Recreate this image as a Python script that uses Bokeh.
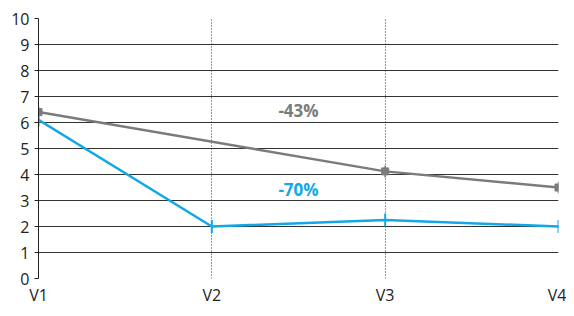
import numpy as np
from bokeh.plotting import figure
from bokeh.models import Range1d, FixedTicker, Label
from bokeh.embed import file_html
from bokeh.resources import INLINE

categories = ["V1", "V2", "V3", "V4"]
gray_values = [6.4, None, 4.12, 3.5]
blue_values = [6.1, 2.0, 2.25, 2.0]
y_ticks = list(range(0, 11))
gray_label = "-43%"
blue_label = "-70%"

GRAY = "#7b7b7b"
BLUE = "#12a8e8"
FONT = "Open Sans"

p = figure(width=566, height=308, output_backend="svg", toolbar_location=None,
           x_range=Range1d(0, 3), y_range=Range1d(0, 10),
           min_border_left=38, min_border_right=8, min_border_top=18, min_border_bottom=20)
p.outline_line_color = None
p.background_fill_color = "white"
p.border_fill_color = "white"

xs = list(range(len(categories)))
p.xaxis.ticker = FixedTicker(ticks=xs)
p.xaxis.major_label_overrides = {i: c for i, c in enumerate(categories)}
p.yaxis.ticker = FixedTicker(ticks=y_ticks)

for ax in (p.xaxis, p.yaxis):
    ax.axis_line_color = "#222222"
    ax.axis_line_width = 1
    ax.major_tick_line_color = "#222222"
    ax.major_tick_out = 4
    ax.major_tick_in = 0
    ax.minor_tick_line_color = None
    ax.major_label_text_font = FONT
    ax.major_label_text_font_size = "16px"
    ax.major_label_text_color = "#222222"
p.xaxis.major_tick_line_color = None
p.xaxis.axis_line_color = None
p.yaxis.major_label_standoff = 5
p.xaxis.major_label_standoff = 1

p.ygrid.grid_line_color = "#333333"
p.ygrid.grid_line_width = 1
p.xgrid.grid_line_color = "#333333"
p.xgrid.grid_line_dash = "1 2"
p.xgrid.grid_line_width = 1

gx = [x for x, v in zip(xs, gray_values) if v is not None]
gy = [v for v in gray_values if v is not None]
p.line(gx, gy, line_color=GRAY, line_width=2.5)
p.scatter(gx, gy, marker="dash", angle=np.pi / 2, size=12, line_color=GRAY, line_width=1.5)
p.scatter(gx, gy, marker="square", size=7, fill_color=GRAY, line_color=GRAY)

p.line(xs, blue_values, line_color=BLUE, line_width=2.5)
p.scatter(xs, blue_values, marker="dash", angle=np.pi / 2, size=13, line_color=BLUE, line_width=2)

p.add_layout(Label(x=1.5, y=6.46, text=gray_label, text_color=GRAY, text_font=FONT,
                   text_font_size="17px", text_font_style="bold",
                   text_align="center", text_baseline="middle"))
p.add_layout(Label(x=1.5, y=3.43, text=blue_label, text_color=BLUE, text_font=FONT,
                   text_font_size="17px", text_font_style="bold",
                   text_align="center", text_baseline="middle"))

open("out.html", "w").write(file_html(p, INLINE))
